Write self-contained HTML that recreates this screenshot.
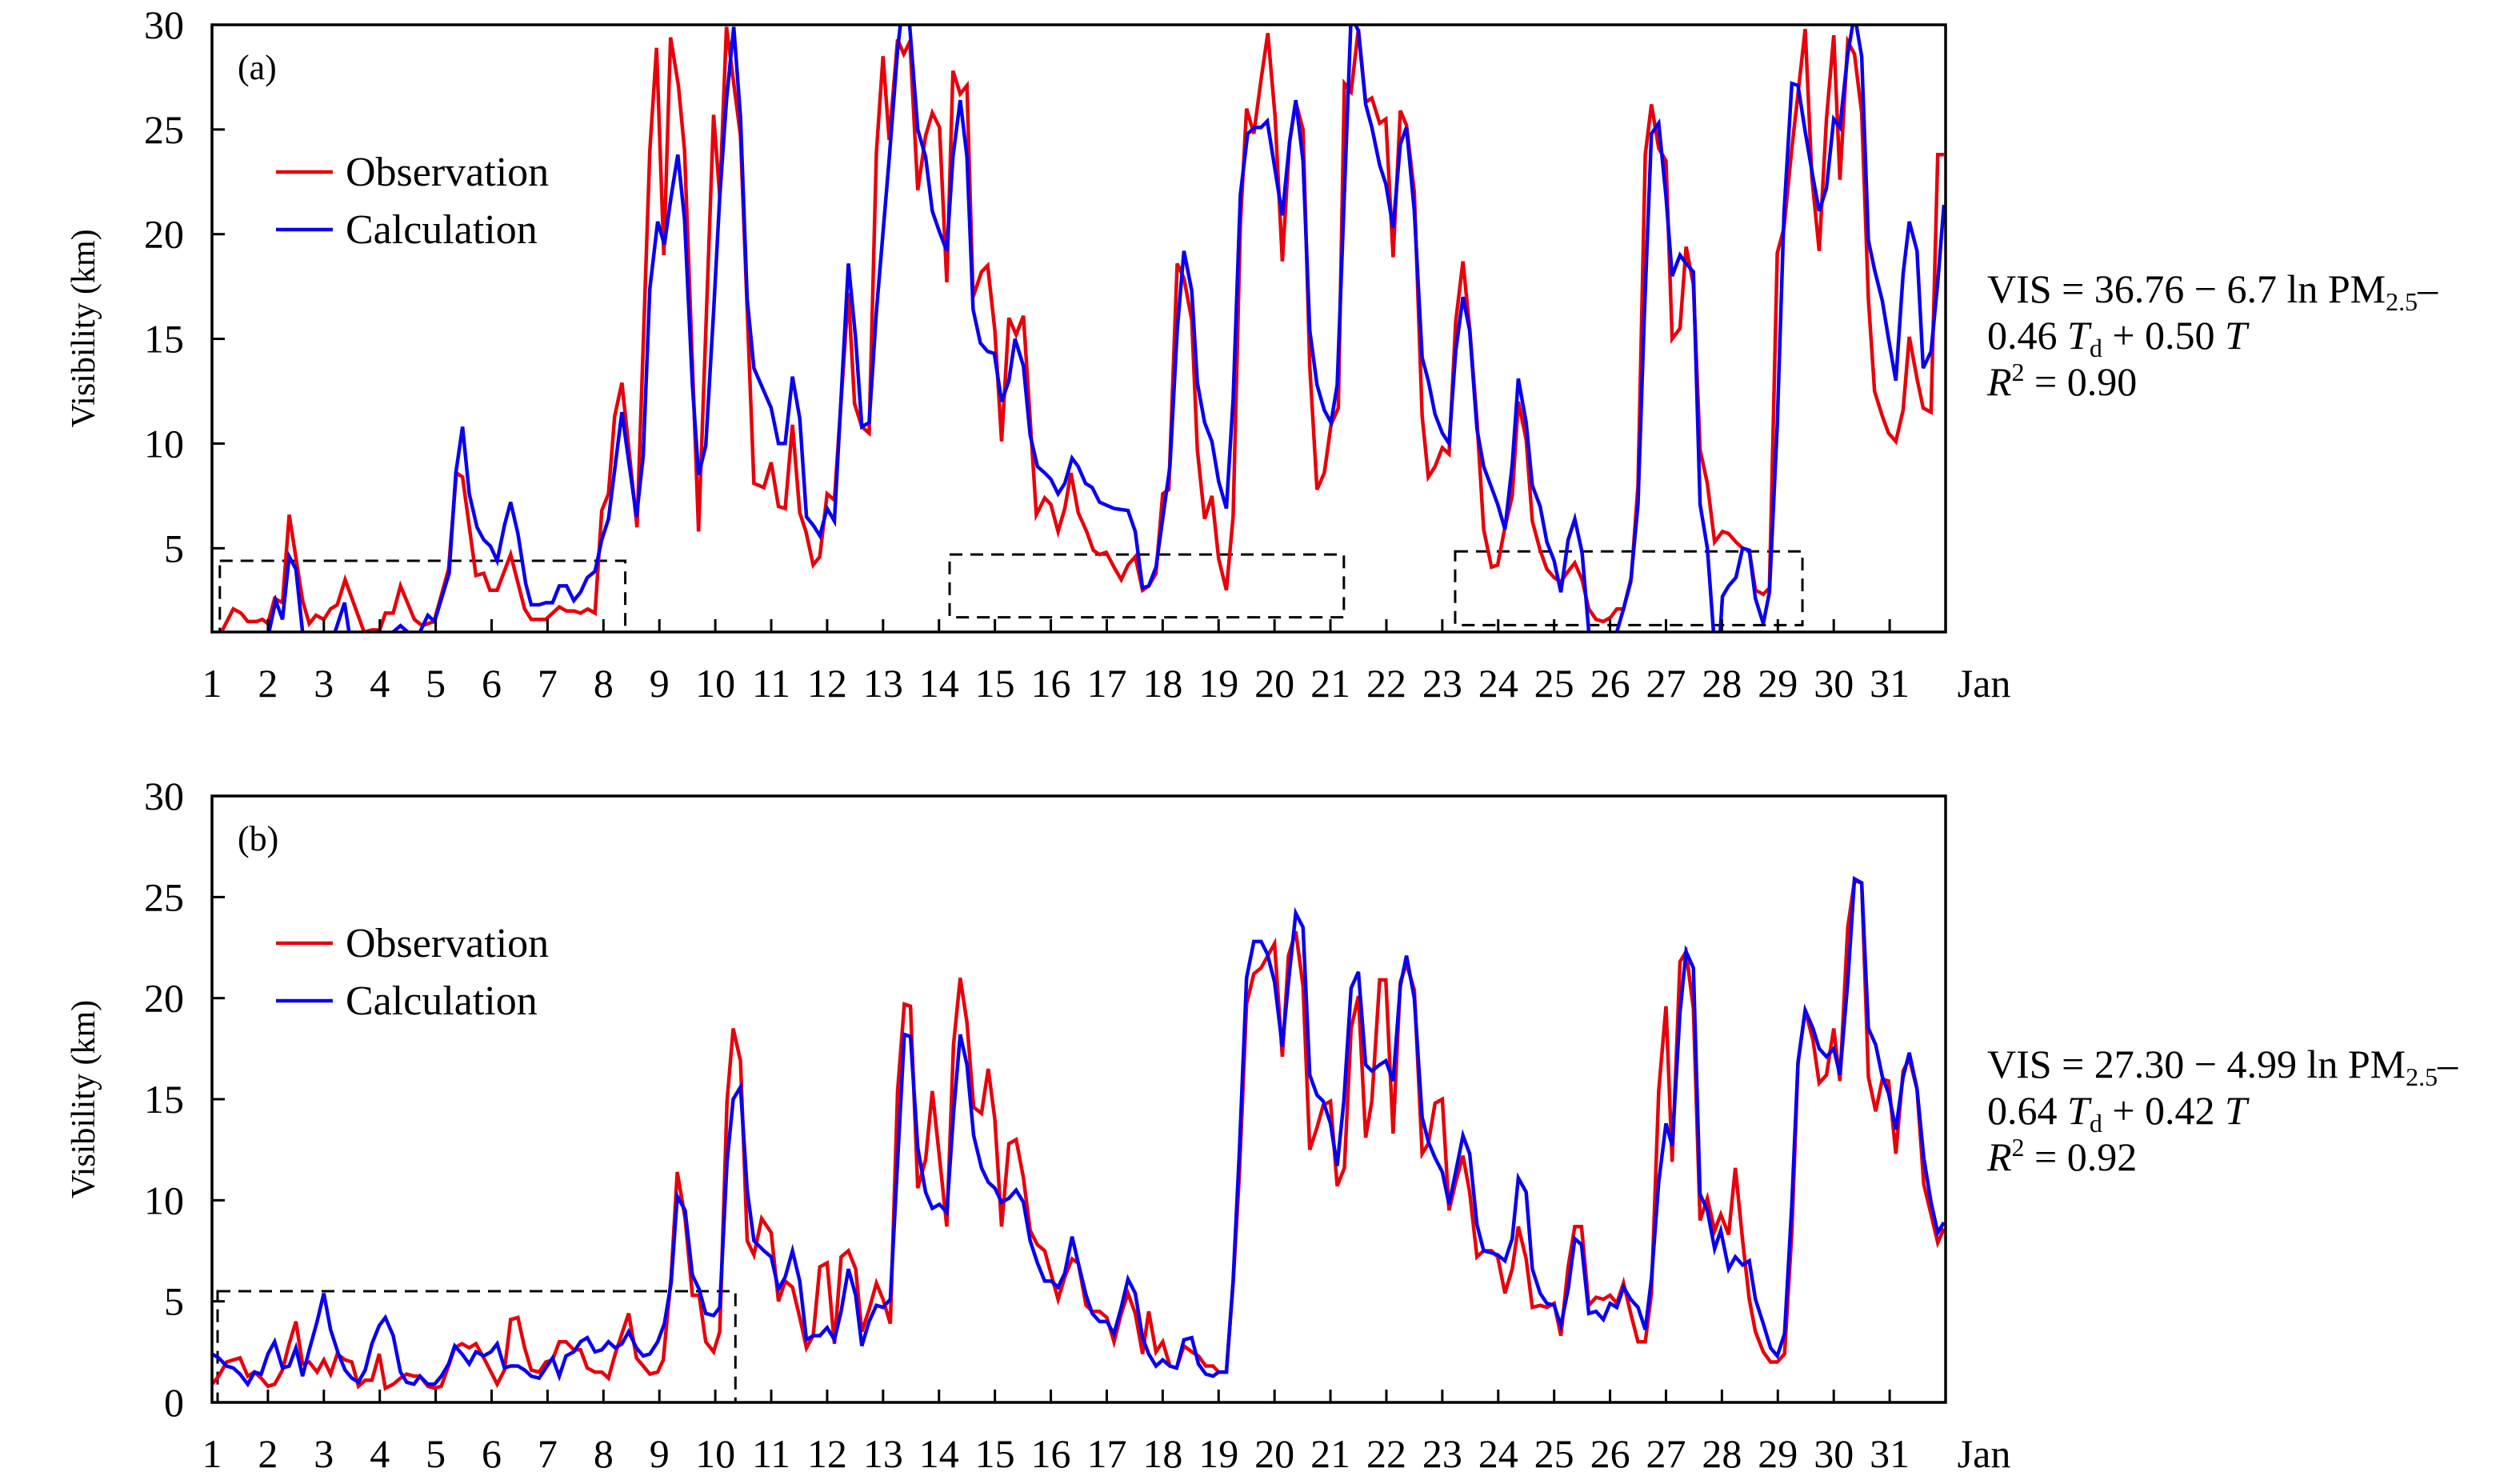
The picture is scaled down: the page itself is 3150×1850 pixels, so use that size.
<!DOCTYPE html>
<html><head><meta charset="utf-8"><style>
html,body{margin:0;padding:0;background:#fff;}
svg{display:block;font-family:"Liberation Serif",serif;}
</style></head><body>
<svg id="chart" width="3150" height="1850" viewBox="0 0 3150 1850" xmlns="http://www.w3.org/2000/svg">
<defs>
<clipPath id="clipA"><rect x="265" y="31" width="2167" height="759"/></clipPath>
<clipPath id="clipB"><rect x="265" y="995" width="2167" height="758"/></clipPath>
</defs>
<g id="panelA"></g>
<g id="panelB"></g>
</svg>
<script>
// ---- Panel (a) data ----
const obsA_t=[1.0,1.17,1.38,1.52,1.64,1.8,1.9,2.0,2.12,2.26,2.38,2.62,2.74,2.86,3.0,3.12,3.24,3.38,3.72,3.86,4.0,4.1,4.24,4.37,4.62,4.76,4.97,5.23,5.37,5.48,5.72,5.86,5.97,6.1,6.34,6.59,6.71,6.97,7.21,7.34,7.48,7.59,7.72,7.85,7.97,8.09,8.2,8.33,8.6,8.83,8.95,9.08,9.2,9.34,9.45,9.7,9.97,10.08,10.2,10.45,10.69,10.87,11.0,11.13,11.25,11.38,11.51,11.62,11.75,11.87,12.0,12.13,12.38,12.49,12.62,12.75,12.88,13.0,13.11,13.26,13.37,13.48,13.62,13.76,13.88,14.01,14.14,14.25,14.38,14.5,14.61,14.76,14.87,15.0,15.12,15.25,15.38,15.51,15.74,15.89,16.0,16.13,16.25,16.36,16.49,16.64,16.76,16.87,16.99,17.13,17.26,17.38,17.51,17.64,17.75,17.88,18.0,18.11,18.26,18.38,18.52,18.62,18.75,18.88,19.0,19.14,19.26,19.39,19.5,19.63,19.76,19.88,20.01,20.14,20.27,20.38,20.51,20.63,20.76,20.89,21.01,21.14,21.25,21.37,21.5,21.63,21.74,21.88,21.99,22.12,22.25,22.36,22.5,22.64,22.75,22.87,23.0,23.12,23.24,23.37,23.49,23.62,23.74,23.88,23.99,24.12,24.25,24.36,24.5,24.61,24.75,24.87,25.0,25.12,25.25,25.37,25.5,25.62,25.75,25.88,26.01,26.12,26.24,26.38,26.5,26.63,26.74,26.87,27.0,27.11,27.25,27.36,27.49,27.61,27.74,27.87,28.01,28.12,28.25,28.37,28.49,28.6,28.74,28.85,28.99,29.11,29.25,29.36,29.49,29.61,29.74,29.87,30.0,30.11,30.25,30.37,30.5,30.62,30.73,30.87,30.98,31.11,31.24,31.35,31.49,31.6,31.74,31.86,31.97];
const obsA_v=[0.5,1,2.1,1.9,1.5,1.5,1.6,1.4,2.6,2.4,6.6,2.5,1.4,1.8,1.6,2.1,2.3,3.5,1,1.1,1.1,1.9,1.9,3.2,1.6,1.3,1.5,4.0,8.6,8.4,3.7,3.8,3.0,3.0,4.7,2.1,1.6,1.6,2.2,2.0,2.0,1.9,2.1,1.9,6.8,7.6,11.3,12.9,6.0,24,28.9,19.0,29.4,27.1,24.0,5.8,25.7,21.8,29.9,24.7,8.1,7.9,9.1,7.0,6.9,10.9,6.7,5.8,4.2,4.6,7.6,7.3,17.2,11.9,10.8,10.5,23.9,28.5,24.5,29.3,28.6,29.2,22.1,24.7,25.8,25.1,17.7,27.8,26.7,27.1,17.0,18.2,18.5,15.4,10.1,16.0,15.2,16.1,6.6,7.4,7.1,5.8,6.9,8.6,6.7,5.8,4.9,4.7,4.8,4.1,3.5,4.2,4.6,3.0,3.2,3.8,7.6,7.8,18.6,17.9,15.9,9.7,6.4,7.5,4.5,3.0,6.5,20.5,26.0,24.8,27.4,29.6,25.6,18.7,24.4,26.3,25.0,13.7,7.8,8.6,10.9,11.7,27.2,26.8,29.8,26.3,26.5,25.3,25.5,18.9,25.9,25.2,22.0,11.3,8.4,8.9,9.8,9.5,15.8,18.7,15.5,11.1,5.9,4.1,4.2,6.0,7.5,12.0,10.2,6.3,4.9,4.0,3.6,3.4,3.9,4.3,3.5,2.1,1.6,1.5,1.7,2.1,2.1,3.6,8.0,23.8,26.2,24.1,23.5,15.0,15.5,19.4,17.6,9.7,8.1,5.3,5.8,5.7,5.3,5.0,4.9,3.0,2.8,3.1,19.1,20.3,24.1,26.7,29.8,22.7,19.2,25.5,29.5,22.6,29.2,28.6,25.8,16.9,12.5,11.3,10.5,10.1,11.6,15.1,13.1,11.7,11.5,23.8,23.8];
const calA_t=[1.9,2.02,2.14,2.26,2.38,2.5,2.62,2.7,3.15,3.2,3.37,3.45,3.55,4.15,4.24,4.37,4.5,4.6,4.72,4.86,4.98,5.24,5.36,5.48,5.6,5.74,5.86,5.98,6.1,6.23,6.34,6.47,6.61,6.71,6.85,6.97,7.09,7.21,7.34,7.47,7.59,7.71,7.85,7.97,8.09,8.33,8.59,8.71,8.83,8.97,9.09,9.21,9.33,9.45,9.59,9.7,9.83,9.97,10.08,10.2,10.33,10.45,10.57,10.69,10.87,11.0,11.13,11.25,11.38,11.51,11.63,11.75,11.87,12.0,12.13,12.38,12.51,12.62,12.75,12.88,13.11,13.26,13.33,13.46,13.62,13.76,13.88,14.01,14.14,14.25,14.38,14.5,14.61,14.74,14.87,14.99,15.12,15.25,15.36,15.51,15.63,15.76,15.89,16.0,16.13,16.25,16.38,16.49,16.62,16.74,16.87,17.13,17.38,17.51,17.64,17.75,17.88,18.13,18.26,18.38,18.52,18.62,18.75,18.88,19.0,19.14,19.26,19.39,19.52,19.65,19.76,19.87,20.14,20.27,20.38,20.51,20.63,20.76,20.89,21.01,21.12,21.37,21.5,21.63,21.74,21.88,21.99,22.12,22.25,22.36,22.5,22.64,22.75,22.87,23.0,23.12,23.24,23.37,23.49,23.62,23.74,23.88,23.99,24.12,24.25,24.36,24.5,24.61,24.75,24.87,25.0,25.12,25.25,25.37,25.5,25.62,25.7,26.05,26.12,26.24,26.37,26.5,26.61,26.74,26.87,27.0,27.11,27.25,27.36,27.49,27.61,27.74,27.85,27.92,28.01,28.12,28.25,28.37,28.49,28.6,28.74,28.85,28.99,29.11,29.25,29.36,29.49,29.63,29.74,29.87,30.0,30.11,30.25,30.37,30.5,30.62,30.73,30.87,30.98,31.11,31.24,31.35,31.49,31.6,31.74,31.86,31.97];
const calA_v=[-1,1,2.5,1.6,4.6,4.0,1,-1,-1,1,2.4,1,-1,-1,1,1.3,1,-0.5,1,1.8,1.5,3.8,8.6,10.8,7.6,6.0,5.4,5.1,4.4,6.1,7.2,5.7,3.3,2.3,2.3,2.4,2.4,3.2,3.2,2.5,2.9,3.6,3.9,5.4,6.4,11.5,6.5,9.4,17.4,20.6,19.5,21.8,23.8,20.7,12.8,8.5,9.9,16.3,21.8,26.4,29.9,25.6,16.9,13.6,12.5,11.7,10.0,10.0,13.2,11.2,6.5,6.1,5.6,6.9,6.3,18.6,15.0,10.8,11.0,16.3,23.6,28.8,30.5,30.5,25.0,23.7,21.1,20.1,19.2,23.7,26.4,23.7,16.4,14.8,14.4,14.3,12.0,13.0,15.0,13.7,10.4,8.9,8.6,8.3,7.6,8.1,9.3,8.9,8.1,7.9,7.2,6.9,6.8,5.8,3.1,3.2,4.1,8.9,15.4,19.2,17.3,12.9,11.0,10.1,8.2,6.9,12.1,21.9,24.8,25.1,25.1,25.4,20.9,24.4,26.4,23.5,15.4,12.8,11.6,11.0,12.8,30.5,29.7,26.2,25.1,23.3,22.4,20.3,24.3,25.1,21.1,14.1,13.0,11.4,10.5,10.0,14.4,17.0,15.4,10.7,8.9,7.9,7.1,5.9,9.0,13.1,11.0,8.0,7.0,5.3,4.4,2.9,5.4,6.4,4.8,1,-1,-1,1,2.1,3.4,7.1,15.9,24.8,25.3,21.8,18.0,19.0,18.6,18.2,7.1,5.0,1,-1,2.7,3.2,3.6,5.0,4.9,2.6,1.4,2.9,10.9,21.0,27.2,27.1,24.9,22.7,21.1,22.2,25.5,25.1,28.6,30.5,28.5,19.7,18.3,16.8,15.0,13.0,18.1,20.6,19.2,13.6,14.4,17.7,21.4];
// ---- Panel (b) data ----
const obsB_t=[1.0,1.12,1.26,1.38,1.5,1.64,1.76,1.88,2.0,2.12,2.26,2.38,2.5,2.62,2.74,2.88,3.0,3.12,3.24,3.38,3.5,3.62,3.74,3.86,3.99,4.1,4.24,4.37,4.48,4.61,4.72,4.86,4.98,5.1,5.23,5.34,5.47,5.6,5.72,5.86,5.99,6.1,6.23,6.34,6.47,6.59,6.71,6.85,6.97,7.09,7.21,7.33,7.47,7.59,7.71,7.85,7.97,8.09,8.21,8.33,8.45,8.59,8.71,8.83,8.97,9.07,9.21,9.32,9.46,9.59,9.71,9.83,9.97,10.08,10.21,10.32,10.45,10.57,10.69,10.83,11.0,11.13,11.25,11.38,11.51,11.63,11.75,11.87,12.0,12.13,12.25,12.38,12.51,12.62,12.75,12.88,13.0,13.13,13.26,13.38,13.49,13.62,13.76,13.88,14.01,14.14,14.26,14.38,14.5,14.62,14.76,14.88,15.0,15.12,15.25,15.38,15.51,15.63,15.76,15.89,16.01,16.13,16.25,16.38,16.49,16.63,16.74,16.87,17.0,17.13,17.26,17.38,17.51,17.64,17.75,17.88,18.0,18.13,18.25,18.38,18.52,18.64,18.77,18.9,19.0,19.14,19.26,19.37,19.5,19.63,19.76,20.0,20.14,20.25,20.38,20.51,20.63,20.76,20.87,21.0,21.12,21.25,21.37,21.5,21.63,21.74,21.88,21.99,22.12,22.25,22.36,22.5,22.64,22.75,22.87,23.0,23.12,23.24,23.37,23.49,23.62,23.74,23.88,23.99,24.12,24.25,24.36,24.5,24.61,24.75,24.87,25.0,25.12,25.25,25.37,25.49,25.62,25.75,25.88,26.0,26.12,26.24,26.37,26.5,26.63,26.74,26.87,27.0,27.11,27.25,27.36,27.49,27.61,27.74,27.87,27.98,28.12,28.24,28.37,28.49,28.6,28.74,28.87,28.99,29.12,29.25,29.36,29.49,29.63,29.74,29.87,30.0,30.11,30.25,30.37,30.5,30.62,30.75,30.87,30.98,31.11,31.24,31.35,31.49,31.61,31.74,31.86,31.97];
const obsB_v=[0.9,1.3,2.0,2.1,2.2,1.3,1.5,1.2,0.8,0.9,1.6,2.9,4.0,1.9,2.0,1.5,2.1,1.4,2.4,2.1,2.0,0.8,1.1,1.1,2.4,0.7,0.9,1.2,1.4,1.3,1.3,0.8,0.7,0.8,1.8,2.7,2.9,2.7,2.9,2.2,1.5,0.9,1.6,4.1,4.2,2.7,1.6,1.5,2.0,2.1,3.0,3.0,2.6,2.6,1.7,1.5,1.5,1.2,2.4,3.4,4.4,2.2,1.8,1.4,1.5,2.1,6.2,11.4,9.1,5.3,5.3,3.0,2.5,3.5,14.9,18.5,16.9,8.0,7.3,9.1,8.4,5.0,6.0,5.7,4.2,2.7,3.3,6.7,6.9,2.9,7.2,7.5,6.6,3.5,4.6,5.9,5.1,3.9,15.4,19.7,19.6,10.6,12.0,15.4,12.1,8.7,17.7,21.0,18.8,14.6,14.3,16.5,14.0,8.7,12.8,13.0,11.1,8.5,7.8,7.5,6.3,5.1,6.2,7.1,6.9,4.8,4.5,4.5,4.2,3.0,4.4,5.4,4.4,2.4,4.5,2.5,3.0,1.8,1.7,2.8,2.5,2.3,1.8,1.8,1.5,1.5,5.9,11.2,19.7,21.2,21.5,22.7,17.1,22.1,23.3,20.6,12.5,13.6,14.7,14.9,10.7,11.6,18.5,20.1,13.1,14.9,20.9,20.9,13.3,20.8,21.7,20.4,12.3,12.8,14.8,15.0,9.5,10.9,12.2,10.4,7.2,7.5,7.5,7.2,5.4,6.6,8.7,7.1,4.7,4.8,4.7,4.9,3.3,6.7,8.7,8.7,4.8,5.2,5.1,5.3,4.9,5.9,4.4,3.0,3.0,5.4,15.4,19.6,11.9,21.8,22.3,19.5,9.0,10.1,8.5,9.3,8.3,11.6,8.0,5.1,3.5,2.5,2.0,2.0,2.4,8.4,16.8,19.4,17.9,15.8,16.2,18.5,15.9,23.5,25.8,25.7,16.1,14.4,16.0,15.9,12.3,16.4,17.0,15.5,10.8,9.3,7.9,8.6];
const calB_t=[1.0,1.12,1.26,1.38,1.5,1.64,1.76,1.88,2.0,2.12,2.26,2.38,2.5,2.62,2.74,2.88,3.0,3.12,3.26,3.38,3.5,3.62,3.74,3.86,3.99,4.1,4.24,4.37,4.48,4.61,4.72,4.86,4.98,5.1,5.23,5.34,5.47,5.6,5.72,5.86,5.99,6.1,6.23,6.34,6.47,6.59,6.71,6.85,6.97,7.09,7.21,7.33,7.47,7.59,7.71,7.85,7.97,8.09,8.21,8.33,8.45,8.59,8.71,8.83,8.97,9.09,9.21,9.32,9.46,9.59,9.71,9.83,9.97,10.08,10.21,10.32,10.45,10.57,10.69,10.87,11.0,11.13,11.25,11.38,11.51,11.63,11.75,11.87,12.0,12.13,12.25,12.38,12.51,12.62,12.75,12.88,13.0,13.13,13.38,13.49,13.62,13.76,13.88,14.01,14.14,14.26,14.38,14.5,14.62,14.76,14.88,15.0,15.12,15.25,15.38,15.51,15.63,15.76,15.89,16.01,16.13,16.25,16.38,16.49,16.63,16.74,16.87,17.0,17.13,17.26,17.38,17.51,17.64,17.75,17.88,18.0,18.13,18.25,18.38,18.52,18.64,18.77,18.9,19.0,19.14,19.26,19.37,19.5,19.63,19.76,19.87,20.0,20.14,20.25,20.38,20.51,20.63,20.76,20.87,21.0,21.12,21.24,21.37,21.5,21.63,21.74,21.88,21.99,22.12,22.25,22.36,22.5,22.64,22.75,22.87,23.0,23.12,23.24,23.37,23.49,23.62,23.74,23.88,23.99,24.12,24.25,24.36,24.5,24.61,24.75,24.87,25.0,25.12,25.25,25.37,25.49,25.62,25.75,25.88,26.0,26.12,26.24,26.37,26.5,26.63,26.74,26.87,27.0,27.11,27.25,27.36,27.49,27.61,27.74,27.87,27.98,28.12,28.24,28.37,28.49,28.6,28.74,28.87,28.99,29.12,29.25,29.36,29.49,29.63,29.74,29.87,30.0,30.11,30.25,30.37,30.5,30.62,30.75,30.87,30.98,31.11,31.24,31.35,31.49,31.61,31.74,31.86,31.97];
const calB_v=[2.4,2.2,1.8,1.7,1.4,0.9,1.5,1.4,2.4,3.0,1.7,1.8,2.7,1.3,2.6,4.0,5.4,3.6,2.4,1.6,1.2,1.0,1.6,2.9,3.8,4.2,3.3,1.5,1.0,0.9,1.3,0.9,0.9,1.3,1.9,2.8,2.4,1.9,2.5,2.3,2.5,2.9,1.7,1.8,1.8,1.6,1.3,1.2,1.7,2.2,1.3,2.3,2.5,3.0,3.2,2.5,2.6,3.0,2.7,2.9,3.5,2.7,2.3,2.4,3.0,3.9,5.9,10.2,9.5,6.3,5.6,4.4,4.3,4.7,11.9,15.0,15.6,10.5,8.0,7.5,7.2,5.6,6.2,7.5,6.0,3.1,3.3,3.3,3.7,3.1,4.5,6.6,5.3,2.8,4.0,4.8,4.7,5.1,18.2,18.1,12.6,10.4,9.6,9.8,9.4,14.3,18.2,16.7,13.2,11.6,10.9,10.6,9.9,10.1,10.5,9.9,8.0,6.9,6.0,6.0,5.7,6.4,8.2,6.9,5.3,4.4,4.0,4.0,3.4,4.7,6.1,5.4,3.2,2.4,1.8,2.1,1.8,1.7,3.1,3.2,1.9,1.4,1.3,1.5,1.5,6.0,12.3,21.0,22.8,22.8,22.2,20.8,17.6,20.8,24.2,23.5,16.2,15.2,14.9,13.8,11.7,14.9,20.5,21.3,16.7,16.4,16.7,16.9,15.9,20.6,22.1,20.0,14.1,12.9,12.1,11.4,9.8,11.4,13.2,12.3,8.8,7.5,7.4,7.3,7.0,8.1,11.1,10.4,6.6,5.4,4.9,4.8,3.8,5.6,8.1,7.8,4.4,4.5,4.1,4.9,4.7,5.7,5.1,4.7,3.6,6.1,10.9,13.8,12.7,19.3,22.3,21.5,10.3,9.5,7.6,8.5,6.6,7.2,6.8,7.0,5.1,3.9,2.7,2.3,3.4,9.8,16.8,19.4,18.5,17.5,17.1,17.5,16.2,20.8,25.9,25.7,18.5,17.7,16.1,15.3,13.5,16.1,17.3,15.5,12.1,9.9,8.4,8.9];
const dayTicks=[1,2,3,4,5,6,7,8,9,10,11,12,13,14,15,16,17,18,19,20,21,22,23,24,25,26,27,28,29,30,31];
const yTicksA=[5,10,15,20,25,30];
const yTicksB=[0,5,10,15,20,25,30];
// dashed highlight boxes: [day0, day1, vLow, vHigh]
const boxesA=[[1.14,8.39,1.0,4.4],[14.19,21.24,1.7,4.7],[23.23,29.44,1.33,4.85]];
const boxesB=[[1.1,10.36,0,5.5]];

const NS='http://www.w3.org/2000/svg';
const X0=265,X1=2432;
function xS(d){return X0+(d-1)*(X1-X0)/31;}
function mkY(vmin,vmax,ytop,ybot){return v=>ybot-(v-vmin)*(ybot-ytop)/(vmax-vmin);}
function el(tag,attrs,parent){const e=document.createElementNS(NS,tag);for(const k in attrs)e.setAttribute(k,attrs[k]);parent.appendChild(e);return e;}

function drawPanel(g,opt){
  const yS=mkY(opt.vmin,30,opt.top,opt.bot);
  opt.boxes.forEach((b,i)=>{
    const r=el('rect',{x:xS(b[0]),y:yS(b[3]),width:xS(b[1])-xS(b[0]),height:yS(b[2])-yS(b[3]),fill:'none',stroke:'#000','stroke-width':3,'stroke-dasharray':'16,10'},g);
    
    
  });
  const series=[[opt.obsT,opt.obsV,'#e8000b','observation-line'],[opt.calT,opt.calV,'#0a00f0','calculation-line']];
  series.forEach(s=>{
    let d='';
    for(let i=0;i<s[0].length;i++){d+=(i?'L':'M')+xS(s[0][i]).toFixed(1)+','+yS(s[1][i]).toFixed(1);}
    const p=el('path',{d:d,fill:'none',stroke:s[2],'stroke-width':4.5,'stroke-linejoin':'miter','clip-path':'url(#'+opt.clip+')'},g);
    
    
  });
  const fr=el('rect',{x:X0,y:opt.top,width:X1-X0,height:opt.bot-opt.top,fill:'none',stroke:'#000','stroke-width':3.5},g);
  
  
  dayTicks.forEach(t=>{
    const x=xS(t);
    const tk=el('line',{x1:x,x2:x,y1:opt.bot,y2:opt.bot-16,stroke:'#000','stroke-width':3},g);
    
    
    const tx=el('text',{x:x,y:opt.bot+81,'font-size':50,'text-anchor':'middle'},g);
    tx.textContent=t;
    
    
  });
  const jan=el('text',{x:2480,y:opt.bot+81,'font-size':50,'text-anchor':'middle'},g);
  jan.textContent='Jan';
  
  
  opt.yTicks.forEach(t=>{
    const y=yS(t);
    const tk=el('line',{x1:X0,x2:X0+16,y1:y,y2:y,stroke:'#000','stroke-width':3},g);
    
    
    const tx=el('text',{x:230,y:y+17,'font-size':50,'text-anchor':'end'},g);
    tx.textContent=t;
    
    
  });
  const yt=el('text',{x:0,y:0,'font-size':42,'text-anchor':'middle',transform:'translate(118,'+((opt.top+opt.bot)/2)+') rotate(-90)'},g);
  yt.textContent='Visibility (km)';
  
  
  const pl=el('text',{x:297,y:opt.top+68,'font-size':44},g);
  pl.textContent=opt.label;
  
  
  const lg=el('g',{},g);
  
  
  [['Observation','#e8000b',opt.top+199],['Calculation','#0a00f0',opt.top+271]].forEach(e=>{
    const ln=el('line',{x1:345,x2:416,y1:e[2]-15,y2:e[2]-15,stroke:e[1],'stroke-width':4.5},lg);
    
    
    const t=el('text',{x:432,y:e[2]+2,'font-size':52},lg);
    t.textContent=e[0];
    
    
  });
  const eq=el('text',{x:2484,y:opt.eqY,'font-size':50},g);
  
  
  eq.innerHTML='<tspan x="2484">'+opt.eq1+' ln PM<tspan font-size="32" dy="10">2.5</tspan><tspan dy="-10">–</tspan></tspan>'+
    '<tspan x="2484" dy="58">'+opt.eq2a+' <tspan font-style="italic">T</tspan><tspan font-size="32" dy="10">d</tspan><tspan dy="-10"> + '+opt.eq2b+' </tspan><tspan font-style="italic">T</tspan></tspan>'+
    '<tspan x="2484" dy="58"><tspan font-style="italic">R</tspan><tspan font-size="32" dy="-18">2</tspan><tspan dy="18"> = '+opt.r2+'</tspan></tspan>';
}
drawPanel(document.getElementById('panelA'),{vmin:1,top:31,bot:790,clip:'clipA',obsT:obsA_t,obsV:obsA_v,calT:calA_t,calV:calA_v,yTicks:yTicksA,boxes:boxesA,label:'(a)',eqY:378,eq1:'VIS = 36.76 − 6.7',eq2a:'0.46',eq2b:'0.50',r2:'0.90'});
drawPanel(document.getElementById('panelB'),{vmin:0,top:995,bot:1753,clip:'clipB',obsT:obsB_t,obsV:obsB_v,calT:calB_t,calV:calB_v,yTicks:yTicksB,boxes:boxesB,label:'(b)',eqY:1347,eq1:'VIS = 27.30 − 4.99',eq2a:'0.64',eq2b:'0.42',r2:'0.92'});
</script>
</body></html>
